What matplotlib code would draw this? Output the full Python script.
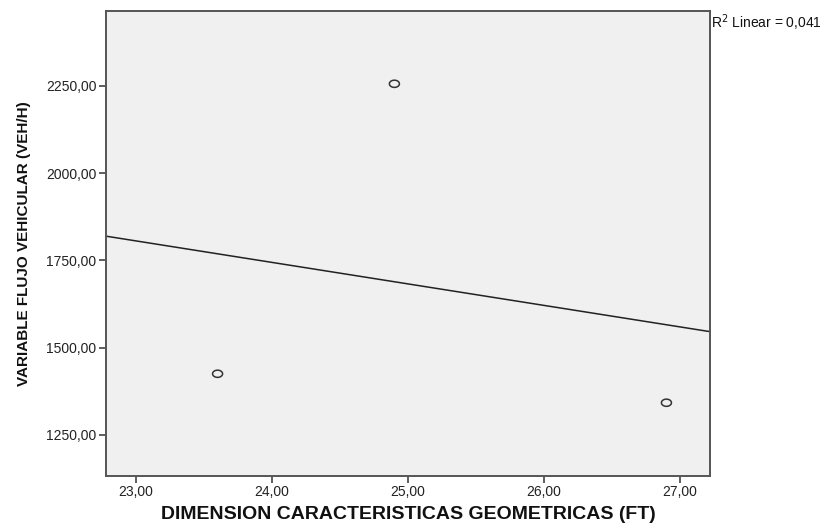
import matplotlib
matplotlib.use("Agg")

import numpy as np
import matplotlib.pyplot as plt
from matplotlib.path import Path
from matplotlib.ticker import FuncFormatter

# data
dimension_ft = [23.6, 24.9, 26.9]
flujo_veh_h = [1425.0, 2256.0, 1342.0]

x_ticks = [23, 24, 25, 26, 27]
y_ticks = [1250, 1500, 1750, 2000, 2250]

x_label = "DIMENSION CARACTERISTICAS GEOMETRICAS (FT)"
y_label = "VARIABLE FLUJO VEHICULAR (VEH/H)"

plt.rcParams["font.family"] = ["Liberation Sans", "DejaVu Sans"]

# least squares fit line and R2
x = np.array(dimension_ft)
y = np.array(flujo_veh_h)
slope, intercept = np.polyfit(x, y, 1)
pred = slope * x + intercept
r2 = 1 - np.sum((y - pred) ** 2) / np.sum((y - y.mean()) ** 2)

fig = plt.figure(figsize=(8.22, 5.25), dpi=100)
ax = fig.add_axes([0.129, 0.0933, 0.7347, 0.886])
ax.set_facecolor("#f0f0f0")

xlim = (22.78, 27.22)
ylim = (1132, 2465)
ax.set_xlim(*xlim)
ax.set_ylim(*ylim)

xs = np.array(xlim)
ax.plot(xs, slope * xs + intercept, color="#222222", lw=1.1, zorder=2)

# slightly flattened open circle marker
t = np.linspace(0, 2 * np.pi, 60)
ellipse = Path(np.column_stack([np.cos(t), 0.72 * np.sin(t)]), closed=True)
ax.scatter(x, y, marker=ellipse, s=52, facecolors="none",
           edgecolors="#333333", linewidths=1.1, zorder=3)

ax.set_xticks(x_ticks)
ax.set_yticks(y_ticks)
fmt = FuncFormatter(lambda v, p: f"{v:.2f}".replace(".", ","))
ax.xaxis.set_major_formatter(fmt)
ax.yaxis.set_major_formatter(fmt)
ax.tick_params(direction="out", length=5, width=1.2, color="#444444",
               labelsize=10, labelcolor="#222222", pad=2)
ax.tick_params(axis="x", pad=1.5)

for s in ax.spines.values():
    s.set_color("#555555")
    s.set_linewidth(1.4)

ax.set_xlabel(x_label, fontsize=14, fontweight="bold", color="#111111", labelpad=5)
ax.set_ylabel(y_label, fontsize=11, fontweight="bold", color="#111111", labelpad=11)

ax.text(1.002, 0.997, f"R$^2$ Linear = {r2:.3f}".replace(".", ","),
        transform=ax.transAxes, ha="left", va="top", fontsize=10, color="#111111")

fig.savefig("out.png", dpi=100)
